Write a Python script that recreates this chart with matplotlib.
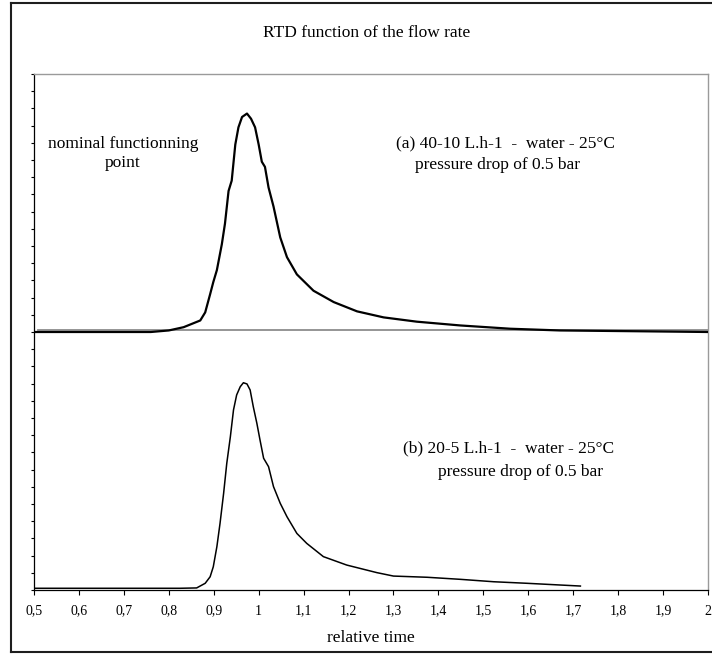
"""
RTD curves for two flow-rate settings, stacked on one Excel-style axis.
"""

import matplotlib
matplotlib.use("Agg")
import matplotlib.pyplot as plt
from matplotlib.lines import Line2D
from matplotlib.ticker import FixedLocator, MultipleLocator

# (a) 40-10 L/h, drawn on top of the axis (offset by half the y range)
time_a = [0.50, 0.60, 0.70, 0.76, 0.80, 0.833, 0.87, 0.881, 0.892, 0.899,
          0.907, 0.918, 0.925, 0.933, 0.940, 0.948, 0.955, 0.963, 0.974,
          0.983, 0.992, 1.000, 1.007, 1.014, 1.022, 1.033, 1.048, 1.063,
          1.085, 1.122, 1.167, 1.219, 1.278, 1.352, 1.449, 1.56, 1.67,
          1.82, 2.0]
rtd_a = [0.0, 0.0, 0.0, 0.0, 0.09, 0.28, 0.67, 1.14, 2.2, 2.9,
         3.6, 5.1, 6.3, 8.2, 8.8, 10.9, 11.9, 12.5, 12.7,
         12.4, 11.9, 10.9, 9.9, 9.6, 8.4, 7.3, 5.5, 4.35,
         3.35, 2.4, 1.74, 1.2, 0.85, 0.6, 0.38, 0.19, 0.09,
         0.05, 0.0]

# (b) 20-5 L/h
time_b = [0.50, 0.60, 0.70, 0.80, 0.825, 0.862, 0.881, 0.892, 0.899, 0.907,
          0.914, 0.922, 0.929, 0.937, 0.944, 0.951, 0.959, 0.966, 0.974,
          0.981, 0.988, 0.996, 1.003, 1.011, 1.022, 1.033, 1.048, 1.063,
          1.085, 1.107, 1.144, 1.196, 1.263, 1.30, 1.375, 1.449, 1.523,
          1.597, 1.671, 1.716]
rtd_b = [0.1, 0.1, 0.1, 0.1, 0.1, 0.12, 0.39, 0.77, 1.35, 2.52,
         3.87, 5.62, 7.36, 8.91, 10.47, 11.34, 11.82, 12.05, 11.98,
         11.63, 10.66, 9.69, 8.72, 7.66, 7.17, 6.01, 5.04, 4.26,
         3.29, 2.71, 1.94, 1.45, 1.01, 0.81, 0.74, 0.62, 0.48,
         0.39, 0.29, 0.23]

xticks = [0.5, 0.6, 0.7, 0.8, 0.9, 1.0, 1.1, 1.2, 1.3, 1.4, 1.5, 1.6, 1.7,
          1.8, 1.9, 2.0]
xtick_labels = ["0,5", "0,6", "0,7", "0,8", "0,9", "1", "1,1", "1,2", "1,3",
                "1,4", "1,5", "1,6", "1,7", "1,8", "1,9", "2"]

OFFSET_A = 15.0
W, H = 712, 655

plt.rcParams["font.family"] = ["Liberation Serif", "DejaVu Serif"]

figure = plt.figure(figsize=(W / 100, H / 100), dpi=100)
ax = figure.add_axes([34 / W, 1 - 590 / H, 674 / W, 516 / H])

ax.plot(time_a, [v + OFFSET_A for v in rtd_a], color="black", linewidth=1.6,
        solid_joinstyle="round", zorder=3)
ax.plot(time_b, rtd_b, color="black", linewidth=1.1,
        solid_joinstyle="round", zorder=3)
ax.plot([0.51, 2.0], [OFFSET_A + 0.12] * 2, color="#8c8c8c", linewidth=1.3,
        zorder=2)

ax.set_xlim(0.5, 2.0)
ax.set_ylim(0, 30)
ax.xaxis.set_major_locator(FixedLocator(xticks))
ax.set_xticklabels(xtick_labels)
ax.yaxis.set_major_locator(MultipleLocator(1))
ax.set_yticklabels([])
ax.tick_params(axis="x", direction="out", length=3.5, width=0.8, pad=7,
               labelsize=10, color="black")
ax.tick_params(axis="y", direction="out", length=2.2, width=0.8, left=True)

for side in ("left", "bottom"):
    ax.spines[side].set_color("black")
    ax.spines[side].set_linewidth(0.9)
for side in ("top", "right"):
    ax.spines[side].set_color("#9a9a9a")
    ax.spines[side].set_linewidth(1.0)

text_style = dict(fontsize=12.5, color="black")
ax.text(0.698, 25.35, "nominal functionning\npoint", ha="center",
        va="center", multialignment="center", linespacing=1.25, **text_style)
ax.text(1.306, 25.99, "(a) 40-10 L.h-1  -  water - 25°C", ha="left",
        va="center", **text_style)
ax.text(1.348, 24.71, "pressure drop of 0.5 bar", ha="left", va="center",
        **text_style)
ax.text(1.322, 8.26, "(b) 20-5 L.h-1  -  water - 25°C", ha="left",
        va="center", **text_style)
ax.text(1.398, 6.86, "pressure drop of 0.5 bar", ha="left", va="center",
        **text_style)

figure.text(367 / W, 1 - 33 / H, "RTD function of the flow rate",
            ha="center", va="center", fontsize=12.5)
figure.text(371 / W, 1 - 638 / H, "relative time", ha="center", va="center",
            fontsize=12.5)

# chart-area frame (right edge is cropped away in the original)
frame = dict(transform=figure.transFigure, color="#1e1e1e", linewidth=1.5)
figure.add_artist(Line2D([11 / W, 11 / W], [1 - 3 / H, 1 - 652 / H], **frame))
figure.add_artist(Line2D([11 / W, 1.0], [1 - 3 / H, 1 - 3 / H], **frame))
figure.add_artist(Line2D([11 / W, 1.0], [1 - 652 / H, 1 - 652 / H], **frame))

figure.savefig("out.png", dpi=100)
plt.close(figure)
